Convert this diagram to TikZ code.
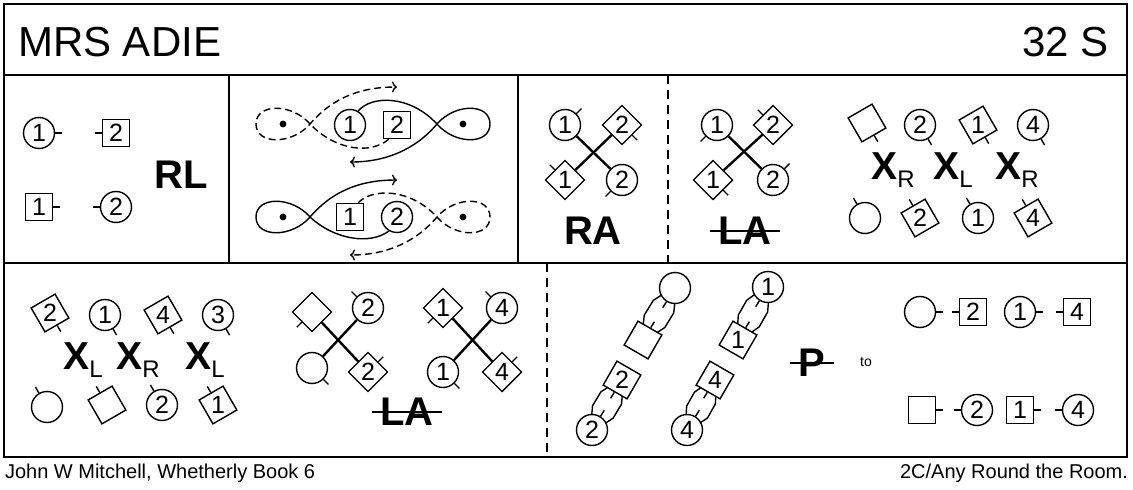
\documentclass[tikz,border=0pt]{standalone}
\usepackage{fontspec}
\setmainfont{Liberation Sans}
\usetikzlibrary{shapes.geometric,arrows.meta,calc}
\newcommand\dnum{\fontsize{25}{25}\selectfont}
\newcommand\nose[2]{\draw (#1.#2) -- ++(#2:7);}
\newcommand\xsub[1]{{\fontsize{39}{39}\selectfont\bfseries X}\raisebox{-8pt}{\fontsize{24}{24}\selectfont #1}}
\newcommand\arms[2]{%
  \draw ($(#1)!0.22!(#2)!8pt!90:(#2)$) -- ($(#1)!0.36!(#2)!12pt!90:(#2)$) -- ($(#1)!0.64!(#2)!12pt!90:(#2)$) -- ($(#1)!0.78!(#2)!8pt!90:(#2)$);
  \draw ($(#1)!0.22!(#2)!8pt!-90:(#2)$) -- ($(#1)!0.36!(#2)!12pt!-90:(#2)$) -- ($(#1)!0.64!(#2)!12pt!-90:(#2)$) -- ($(#1)!0.78!(#2)!8pt!-90:(#2)$);}
\tikzset{
  man/.style={circle,draw,fill=white,minimum size=31pt,inner sep=0pt,font=\dnum},
  lady/.style={rectangle,draw,fill=white,minimum size=27pt,inner sep=0pt,font=\dnum},
  tlady/.style={regular polygon,regular polygon sides=4,regular polygon rotate=#1,draw,fill=white,minimum size=39pt,inner sep=0pt,font=\dnum},
  call/.style={font=\fontsize{40}{40}\selectfont\bfseries},
  arrow/.style={-{To[length=5pt,width=11pt]}},
  track/.style={dash pattern=on 7pt off 4pt},
  dot/.style={circle,fill,inner sep=2.4pt},
}
\begin{document}
\begin{tikzpicture}[x=1pt,y=1pt,line width=1.4pt]
	\useasboundingbox (0,0) rectangle (1133,-490);
	% frame
	\draw[line width=1.7pt] (4,-4) rectangle (1127,-457);
	\draw[line width=1.7pt] (4,-75) -- (1127,-75);
	\draw[line width=1.7pt] (4,-263) -- (1127,-263);
	\draw (229,-75) -- (229,-263);
	\draw (518,-75) -- (518,-263);
	\draw[dash pattern=on 9pt off 6pt] (668,-75) -- (668,-263);
	\draw[dash pattern=on 9pt off 6pt] (547,-263) -- (547,-457);
	\node[anchor=west,font=\fontsize{42}{42}\selectfont] (title) at (14,-42) {MRS ADIE};
	\node[anchor=east,font=\fontsize{42}{42}\selectfont] (form) at (1113,-42) {32 S};
	\node[anchor=west,font=\fontsize{20}{20}\selectfont] (author) at (1,-473) {John W Mitchell, Whetherly Book 6};
	\node[anchor=east,font=\fontsize{20}{20}\selectfont] (room) at (1132,-473) {2C/Any Round the Room.};

	% RL
	\node[man] (m1) at (39,-133) {1}; \nose{m1}{0}
	\node[lady] (l2) at (116,-133) {2}; \nose{l2}{180}
	\node[lady] (l1) at (39,-207) {1}; \nose{l1}{0}
	\node[man] (m2) at (116,-207) {2}; \nose{m2}{180}
	\node[call] (rl) at (181,-175) {RL};

	% figure eights
	\node[man] (fm1) at (350,-125) {1};
	\node[lady] (fl2) at (397,-125) {2};
	\node[lady] (fl1) at (350,-217) {1};
	\node[man] (fm2) at (397,-217) {2};
	\node[dot] (d1) at (283,-124) {}; \node[dot] (d2) at (463,-124) {};
	\node[dot] (d3) at (283,-217) {}; \node[dot] (d4) at (463,-217) {};
	\coordinate (e1) at (350,-162); \coordinate (e2) at (397,-87);
	\coordinate (e3) at (397,-180); \coordinate (e4) at (350,-255);
	\draw[arrow] (fm1.60) .. controls (372,-95) and (410,-95) .. (437,-124) .. controls (455,-145) and (490,-145) .. (490,-124) .. controls (490,-103) and (455,-103) .. (437,-124) .. controls (415,-150) and (385,-162) .. (e1);
	\draw[arrow,track] (fl2.-120) .. controls (370,-155) and (335,-150) .. (310,-124) .. controls (292,-103) and (256,-103) .. (256,-124) .. controls (256,-145) and (292,-145) .. (310,-124) .. controls (335,-95) and (365,-87) .. (e2);
	\draw[arrow] (fm2.-120) .. controls (370,-245) and (335,-240) .. (310,-217) .. controls (292,-196) and (256,-196) .. (256,-217) .. controls (256,-238) and (292,-238) .. (310,-217) .. controls (335,-188) and (365,-180) .. (e3);
	\draw[arrow,track] (fl1.60) .. controls (372,-188) and (410,-188) .. (437,-217) .. controls (455,-238) and (490,-238) .. (490,-217) .. controls (490,-196) and (455,-196) .. (437,-217) .. controls (415,-243) and (385,-255) .. (e4);

	% RA
	\node[man] (am1) at (565,-125) {1}; \nose{am1}{45}
	\node[tlady=45] (al2) at (622,-125) {2}; \nose{al2}{-45}
	\node[tlady=45] (al1) at (565,-180) {1}; \nose{al1}{135}
	\node[man] (am2) at (622,-180) {2}; \nose{am2}{-135}
	\draw[line width=2.4pt] (am1) -- (am2); \draw[line width=2.4pt] (al2) -- (al1);
	\node[call] (ra) at (593,-231) {RA};

	% LA
	\node[man] (bm1) at (717,-125) {1}; \nose{bm1}{-135}
	\node[tlady=45] (bl2) at (773,-125) {2}; \nose{bl2}{135}
	\node[tlady=45] (bl1) at (713,-180) {1}; \nose{bl1}{-45}
	\node[man] (bm2) at (773,-180) {2}; \nose{bm2}{45}
	\draw[line width=2.4pt] (bm1) -- (bm2); \draw[line width=2.4pt] (bl2) -- (bl1);
	\node[call] (la) at (745,-231) {LA};
	\draw ([xshift=-4pt]la.west) -- ([xshift=4pt]la.east);

	% X_R X_L X_R
	\node[tlady=30] (cl) at (867,-123) {}; \nose{cl}{-60}
	\node[man] (cm2) at (920,-125) {2}; \nose{cm2}{-60}
	\node[tlady=30] (cl1) at (978,-125) {1}; \nose{cl1}{-60}
	\node[man] (cm4) at (1033,-125) {4}; \nose{cm4}{-60}
	\node (x1) at (893,-170) {\xsub{R}};
	\node (x2) at (953,-170) {\xsub{L}};
	\node (x3) at (1017,-170) {\xsub{R}};
	\node[man] (cm) at (865,-218) {}; \nose{cm}{120}
	\node[tlady=30] (cl2) at (920,-218) {2}; \nose{cl2}{120}
	\node[man] (cm1) at (978,-218) {1}; \nose{cm1}{120}
	\node[tlady=30] (cl4) at (1033,-218) {4}; \nose{cl4}{120}

	% X_L X_R X_L
	\node[tlady=30] (dl2) at (50,-313) {2}; \nose{dl2}{-60}
	\node[man] (dm1) at (105,-315) {1}; \nose{dm1}{-60}
	\node[tlady=30] (dl4) at (163,-315) {4}; \nose{dl4}{-60}
	\node[man] (dm3) at (218,-315) {3}; \nose{dm3}{-60}
	\node (x4) at (83,-360) {\xsub{L}};
	\node (x5) at (138,-360) {\xsub{R}};
	\node (x6) at (205,-360) {\xsub{L}};
	\node[man] (dm) at (47,-407) {}; \nose{dm}{120}
	\node[tlady=30] (dl) at (107,-405) {}; \nose{dl}{120}
	\node[man] (dm2) at (162,-405) {2}; \nose{dm2}{120}
	\node[tlady=30] (dl1) at (218,-405) {1}; \nose{dl1}{120}

	% LA, second time
	\node[tlady=45] (gl) at (312,-312) {}; \nose{gl}{-135}
	\node[man] (gm2) at (368,-308) {2}; \nose{gm2}{135}
	\node[man] (gm) at (312,-368) {}; \nose{gm}{-45}
	\node[tlady=45] (gl2) at (368,-372) {2}; \nose{gl2}{45}
	\draw[line width=2.4pt] (gl) -- (gl2); \draw[line width=2.4pt] (gm2) -- (gm);
	\node[tlady=45] (hl1) at (443,-308) {1}; \nose{hl1}{-135}
	\node[man] (hm4) at (502,-308) {4}; \nose{hm4}{135}
	\node[man] (hm1) at (443,-372) {1}; \nose{hm1}{-45}
	\node[tlady=45] (hl4) at (502,-372) {4}; \nose{hl4}{45}
	\draw[line width=2.4pt] (hl1) -- (hl4); \draw[line width=2.4pt] (hm4) -- (hm1);
	\node[call] (la2) at (407,-412) {LA};
	\draw ([xshift=-4pt]la2.west) -- ([xshift=4pt]la2.east);

	% P
	\coordinate (pm) at (675,-288); \coordinate (pl) at (643,-340);
	\coordinate (pl2) at (622,-380); \coordinate (pm2) at (592,-430);
	\coordinate (qm1) at (768,-287); \coordinate (ql1) at (738,-340);
	\coordinate (ql4) at (715,-380); \coordinate (qm4) at (687,-430);
	\arms{pl}{pm} \arms{pm2}{pl2} \arms{ql1}{qm1} \arms{qm4}{ql4}
	\node[man] (p1) at (pm) {}; \nose{p1}{238}
	\node[tlady=-30] (p2) at (pl) {}; \nose{p2}{58}
	\node[tlady=-30] (p3) at (pl2) {2}; \nose{p3}{238}
	\node[man] (p4) at (pm2) {2}; \nose{p4}{58}
	\node[man] (q1) at (qm1) {1}; \nose{q1}{238}
	\node[tlady=-30] (q2) at (ql1) {1}; \nose{q2}{58}
	\node[tlady=-30] (q3) at (ql4) {4}; \nose{q3}{238}
	\node[man] (q4) at (qm4) {4}; \nose{q4}{58}
	\node[call] (p) at (812,-363) {P};
	\draw ([xshift=-5pt]p.west) -- ([xshift=5pt]p.east);
	\node[font=\fontsize{14}{14}\selectfont] (to) at (866,-362) {to};

	% end formation
	\node[man] (rm) at (920,-312) {}; \nose{rm}{0}
	\node[lady] (rl2) at (973,-312) {2}; \nose{rl2}{180}
	\node[man] (rm1) at (1020,-312) {1}; \nose{rm1}{0}
	\node[lady] (rl4) at (1077,-312) {4}; \nose{rl4}{180}
	\node[lady] (sl) at (922,-410) {}; \nose{sl}{0}
	\node[man] (sm2) at (977,-410) {2}; \nose{sm2}{180}
	\node[lady] (sl1) at (1020,-410) {1}; \nose{sl1}{0}
	\node[man] (sm4) at (1078,-410) {4}; \nose{sm4}{180}
\end{tikzpicture}
\end{document}
